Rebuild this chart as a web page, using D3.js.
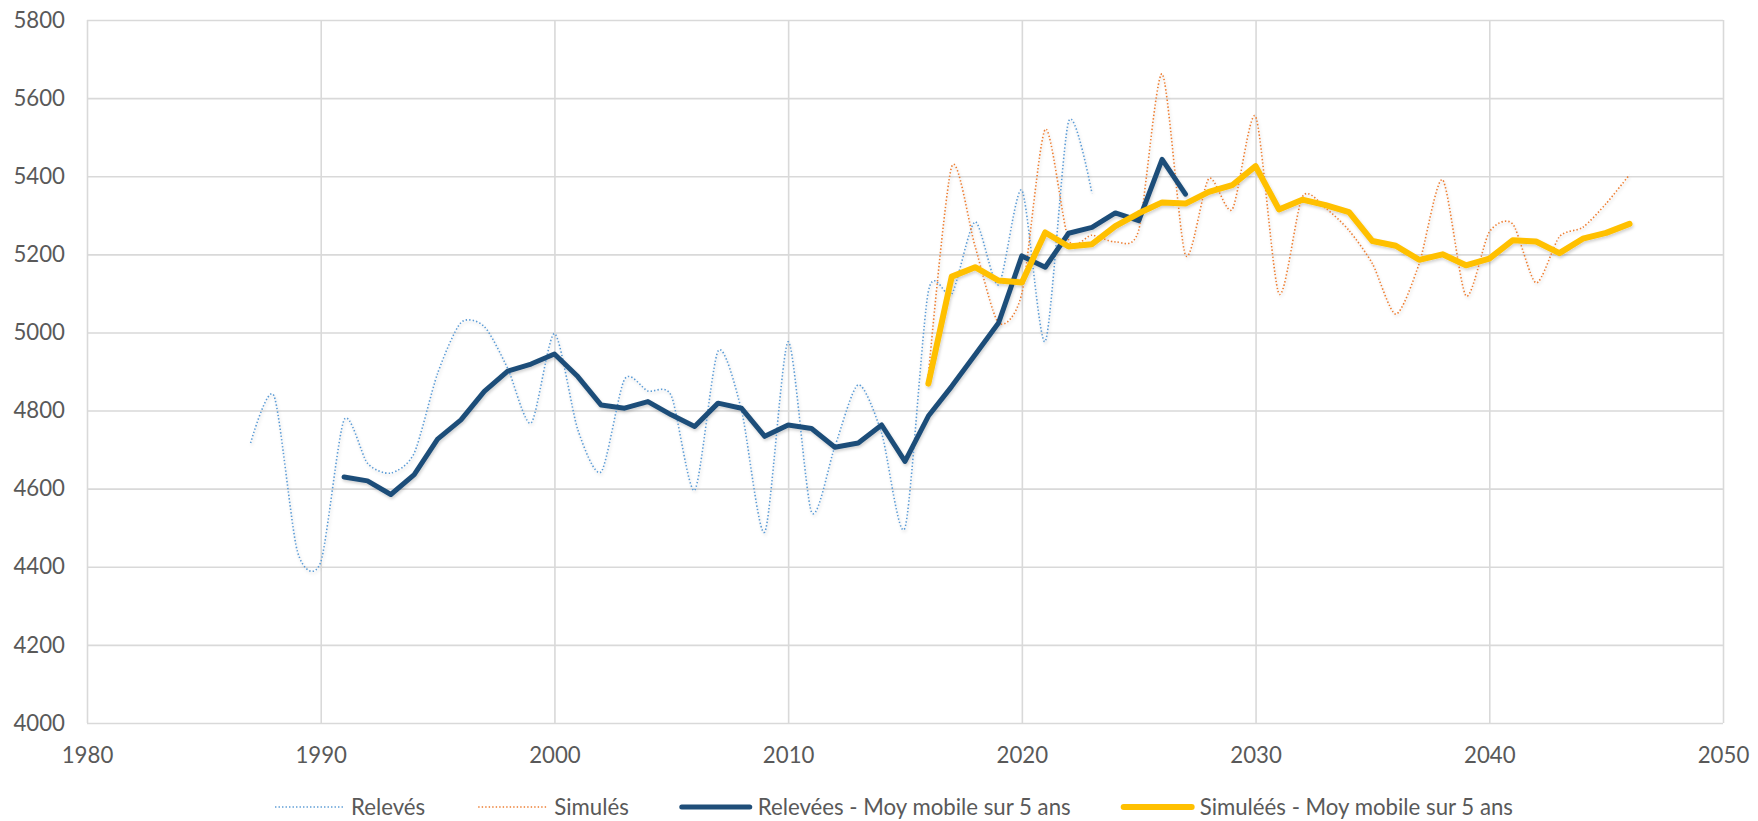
<!DOCTYPE html>
<html>
<head>
<meta charset="utf-8">
<script src="https://cdn.jsdelivr.net/npm/d3@7"></script>
<style>
  body { margin: 0; background: #fff; }
  svg { display: block; }
  text { font-family: Lato, "Open Sans", sans-serif; fill: #595959; }
</style>
</head>
<body>
<svg id="chart" width="1758" height="821"></svg>
<script>
// ---------- DATA ----------
const xTicks = [1980, 1990, 2000, 2010, 2020, 2030, 2040, 2050];
const yTicks = [4000, 4200, 4400, 4600, 4800, 5000, 5200, 5400, 5600, 5800];

const relevesYears = [1987,1988,1989,1990,1991,1992,1993,1994,1995,1996,1997,1998,1999,2000,
  2001,2002,2003,2004,2005,2006,2007,2008,2009,2010,2011,2012,2013,2014,2015,2016,2017,2018,
  2019,2020,2021,2022,2023];
const relevesValues = [4717,4838,4440,4412,4776,4665,4640,4691,4895,5025,5015,4908,4768,4997,
  4751,4643,4880,4850,4838,4596,4952,4802,4489,4976,4540,4708,4866,4742,4500,5105,5098,5283,
  5122,5364,4977,5540,5356];

const simulesYears = [2016,2017,2018,2019,2020,2021,2022,2023,2024,2025,2026,2027,2028,2029,
  2030,2031,2032,2033,2034,2035,2036,2037,2038,2039,2040,2041,2042,2043,2044,2045,2046];
const simulesValues = [4890,5425,5220,5025,5100,5520,5237,5249,5232,5262,5662,5198,5394,5315,
  5553,5099,5347,5318,5261,5176,5047,5176,5391,5094,5257,5278,5127,5245,5269,5330,5404];

const relMAYears = [1991,1992,1993,1994,1995,1996,1997,1998,1999,2000,2001,2002,2003,2004,
  2005,2006,2007,2008,2009,2010,2011,2012,2013,2014,2015,2016,2017,2018,2019,2020,2021,2022,
  2023,2024,2025,2026,2027];
const relMAValues = [4630,4620,4585,4636,4727,4776,4849,4901,4919,4945,4887,4814,4806,4823,
  4789,4759,4819,4806,4734,4763,4754,4706,4717,4763,4670,4786,4862,4943,5024,5196,5167,5254,
  5269,5306,5286,5443,5354];

const simMAYears = [2016,2017,2018,2019,2020,2021,2022,2023,2024,2025,2026,2027,2028,2029,
  2030,2031,2032,2033,2034,2035,2036,2037,2038,2039,2040,2041,2042,2043,2044,2045,2046];
const simMAValues = [4869,5143,5167,5133,5128,5256,5220,5226,5272,5305,5333,5330,5360,5377,
  5426,5315,5340,5326,5308,5234,5222,5186,5200,5172,5189,5236,5233,5203,5240,5255,5278];

const seriesNames = ["Relevés", "Simulés", "Relevées - Moy mobile sur 5 ans", "Simuléés - Moy mobile sur 5 ans"];

(function () {
// ---------- LAYOUT ----------
const svg = d3.select("#chart");
const mL = 87, mR = 1723, mT = 20, mB = 723;
const x = d3.scaleLinear().domain([1980, 2050]).range([mL, mR]);
const y = d3.scaleLinear().domain([4000, 5800]).range([mB, mT]);

// font size calibrated so that legend text width matches the reference
const probe = svg.append("text").attr("font-size", 100).text(seriesNames[2]);
const fs = 100 * 313 / probe.node().getComputedTextLength();
probe.remove();

const defs = svg.append("defs");
const f = defs.append("filter").attr("id", "sh").attr("x", "-5%").attr("y", "-5%").attr("width", "110%").attr("height", "120%");
f.append("feDropShadow").attr("dx", 1).attr("dy", 2).attr("stdDeviation", 1.5)
  .attr("flood-color", "#000").attr("flood-opacity", 0.18);

// gridlines
const gridColor = "#d9d9d9";
const gy = svg.append("g").attr("transform", `translate(${mL},0)`)
  .call(d3.axisLeft(y).tickValues(yTicks).tickSize(-(mR - mL)).tickFormat(""));
gy.select(".domain").remove();
gy.selectAll("line").attr("stroke", gridColor).attr("stroke-width", 1.6);

const gx = svg.append("g").attr("transform", `translate(0,${mB})`)
  .call(d3.axisBottom(x).tickValues(xTicks).tickSize(-(mB - mT)).tickFormat(""));
gx.select(".domain").remove();
gx.selectAll("line").attr("stroke", gridColor).attr("stroke-width", 1.6);

// axis labels
const ay = svg.append("g").attr("transform", `translate(${mL},0)`)
  .call(d3.axisLeft(y).tickValues(yTicks).tickSize(0).tickPadding(22).tickFormat(d => d));
ay.select(".domain").remove();
ay.selectAll("text").attr("font-size", fs).attr("fill", "#595959").style("font-family", "Lato, 'Open Sans', sans-serif");

const ax = svg.append("g").attr("transform", `translate(0,${mB})`)
  .call(d3.axisBottom(x).tickValues(xTicks).tickSize(0).tickPadding(24).tickFormat(d => d));
ax.select(".domain").remove();
ax.selectAll("text").attr("font-size", fs).attr("fill", "#595959").style("font-family", "Lato, 'Open Sans', sans-serif");

// ---------- SERIES ----------
function pts(xs, vs) { return xs.map((d, i) => [d, vs[i]]); }
const smooth = d3.line().x(d => x(d[0])).y(d => y(d[1])).curve(d3.curveCardinal.tension(0.25));
const straight = d3.line().x(d => x(d[0])).y(d => y(d[1]));

const styles = [
  { color: "#5b9bd5", width: 1.6, dash: "1.4 2.1", cap: "butt" },
  { color: "#ed7d31", width: 1.6, dash: "1.4 2.1", cap: "butt" },
  { color: "#1f4e79", width: 5, dash: null, cap: "round" },
  { color: "#ffc000", width: 6, dash: null, cap: "round" }
];

const plot = svg.append("g").attr("filter", "url(#sh)");
const draws = [
  [smooth, pts(relevesYears, relevesValues)],
  [smooth, pts(simulesYears, simulesValues)],
  [straight, pts(relMAYears, relMAValues)],
  [straight, pts(simMAYears, simMAValues)]
];
draws.forEach(([gen, data], i) => {
  const s = styles[i];
  plot.append("path").attr("d", gen(data)).attr("fill", "none")
    .attr("stroke", s.color).attr("stroke-width", s.width)
    .attr("stroke-dasharray", s.dash).attr("stroke-linecap", s.cap)
    .attr("stroke-linejoin", "round");
});

// ---------- LEGEND ----------
const legY = 807, lineLen = 68, textGap = 8, itemGap = 53;
const leg = svg.append("g");
let cx = 0;
seriesNames.forEach((name, i) => {
  const g = leg.append("g");
  const s = styles[i];
  g.append("line").attr("x1", cx).attr("x2", cx + lineLen).attr("y1", legY).attr("y2", legY)
    .attr("stroke", s.color).attr("stroke-width", s.width).attr("stroke-dasharray", s.dash)
    .attr("stroke-linecap", s.cap);
  const t = g.append("text").attr("x", cx + lineLen + textGap).attr("y", legY).attr("dy", "0.35em")
    .attr("font-size", fs).text(name);
  cx += lineLen + textGap + t.node().getComputedTextLength() + itemGap;
});
const total = cx - itemGap;
leg.attr("transform", `translate(${894 - total / 2},0)`);
})();
</script>
</body>
</html>
